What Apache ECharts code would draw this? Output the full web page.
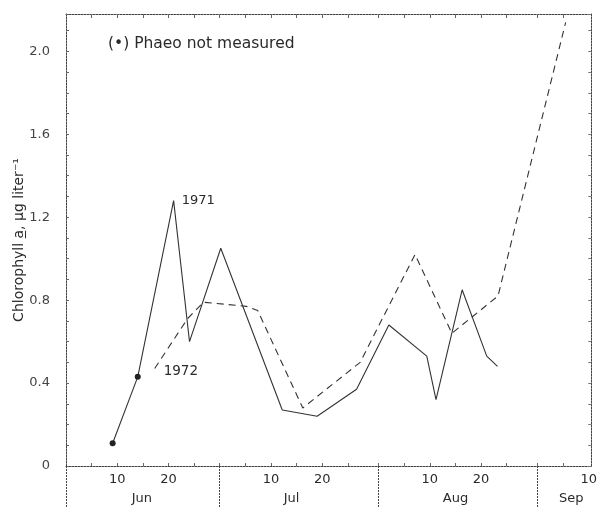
<!DOCTYPE html>
<html>
<head>
<meta charset="utf-8">
<script src="https://cdn.jsdelivr.net/npm/echarts@6/dist/echarts.min.js"></script>
<style>html,body{margin:0;padding:0;background:#fff;}#c{width:600px;height:508px;}</style>
</head>
<body>
<div id="c"></div>
<script>
// x values: days counted from 31 May (1 Jun = 1, 1 Jul = 31, ...)
const days1971 = [9.1, 14.0, 21.0, 24.1, 30.2, 42.2, 49.0, 56.7, 63.0, 70.4, 72.2, 77.3, 82.1, 84.2];
const chl1971  = [0.11, 0.43, 1.28, 0.60, 1.05, 0.27, 0.24, 0.37, 0.68, 0.53, 0.32, 0.85, 0.53, 0.48];
const phaeoNotMeasured1971 = [0, 1];

const days1972 = [17.3, 23.7, 26.8, 35.2, 37.4, 46.2, 57.4, 68.1, 75.3, 84.3, 97.5];
const chl1972  = [0.47, 0.71, 0.79, 0.77, 0.75, 0.28, 0.50, 1.02, 0.64, 0.82, 2.14];

const monthStarts = [0, 30, 61, 92];
const monthNames = ['Jun', 'Jul', 'Aug', 'Sep'];
const monthLabelPos = [14.8, 44, 76, 98.6];
const dayTicks = [10, 20, 40, 50, 71, 81, 102];
const topTicks = [5, 10, 15, 20, 25, 30, 35, 40, 45, 50, 55, 61, 66, 71, 76, 81, 86, 92, 97];
const yTicks = [0, 0.4, 0.8, 1.2, 1.6, 2.0];

const FONT = 'DejaVu Sans';
const INK = '#2a2a2a';
const axisLineStyle = { color: '#444', width: 1, type: [2, 1] };

function monthIndex(v) {
  let k = 0;
  for (let i = 0; i < monthStarts.length; i++) if (v > monthStarts[i]) k = i;
  return k;
}

const data1971 = days1971.map((d, i) => {
  const item = { value: [d, chl1971[i]] };
  if (phaeoNotMeasured1971.indexOf(i) >= 0) { item.symbolSize = 6; }
  if (i === 2) item.label = { show: true, position: 'right', distance: 8, formatter: '1971', fontFamily: FONT, fontSize: 13, color: INK };
  return item;
});
const data1972 = days1972.map((d, i) => {
  const item = { value: [d, chl1972[i]] };
  if (i === 0) item.label = { show: true, position: 'right', distance: 9, offset: [0, 3], formatter: '1972', fontFamily: FONT, fontSize: 13.5, color: INK };
  return item;
});

const chart = echarts.init(document.getElementById('c'), null, { renderer: 'canvas' });
chart.setOption({
  animation: false,
  backgroundColor: '#fff',
  title: {
    text: '(•) Phaeo not measured',
    left: 108, top: 36, padding: 0,
    textStyle: { fontFamily: FONT, fontSize: 15.5, fontWeight: 'normal', color: INK }
  },
  grid: { left: 66, right: 7, top: 14, bottom: 42, containLabel: false },
  xAxis: [
    {
      type: 'value', position: 'bottom', min: 0, max: 102.5,
      axisLine: { show: true, onZero: false, lineStyle: axisLineStyle },
      axisTick: { show: true, inside: true, length: 3, customValues: topTicks, lineStyle: { color: '#666' } },
      axisLabel: {
        customValues: dayTicks, margin: 7, fontFamily: FONT, fontSize: 13, color: INK,
        formatter: v => String(Math.round(v - monthStarts[monthIndex(v)]))
      },
      splitLine: { show: false }
    },
    {
      type: 'value', position: 'bottom', min: 0, max: 102.5,
      axisLine: { show: false },
      axisTick: { show: true, inside: false, length: 42, customValues: monthStarts.concat([]), lineStyle: axisLineStyle },
      axisLabel: {
        customValues: monthLabelPos, margin: 26, fontFamily: FONT, fontSize: 13, color: INK,
        formatter: v => monthNames[monthLabelPos.indexOf(v)] || ''
      },
      splitLine: { show: false }
    },
    {
      type: 'value', position: 'top', min: 0, max: 102.5,
      axisLine: { show: true, onZero: false, lineStyle: axisLineStyle },
      axisTick: { show: true, inside: true, length: 4, customValues: topTicks, lineStyle: { color: '#666' } },
      axisLabel: { show: false },
      splitLine: { show: false }
    }
  ],
  yAxis: [
    {
      type: 'value', position: 'left', min: 0, max: 2.18, interval: 0.1,
      name: 'Chlorophyll a\u0332, µg liter\u207B\u00B9',
      nameLocation: 'middle', nameGap: 40, nameRotate: 90, nameMoveOverlap: false,
      nameTextStyle: { fontFamily: FONT, fontSize: 14, color: INK },
      axisLine: { show: true, onZero: false, lineStyle: axisLineStyle },
      axisTick: { show: true, inside: true, length: 3, lineStyle: { color: '#666' } },
      axisLabel: {
        customValues: yTicks, margin: 16, fontFamily: FONT, fontSize: 13, color: '#444',
        formatter: v => (v === 0 ? '0' : v.toFixed(1))
      },
      splitLine: { show: false }
    },
    {
      type: 'value', position: 'right', min: 0, max: 2.18, interval: 0.1,
      axisLine: { show: true, onZero: false, lineStyle: axisLineStyle },
      axisTick: { show: true, inside: true, length: 3, lineStyle: { color: '#777' } },
      axisLabel: { show: false },
      splitLine: { show: false }
    }
  ],
  series: [
    {
      name: '1971', type: 'line', xAxisIndex: 0, yAxisIndex: 0,
      data: data1971, symbol: 'circle', symbolSize: 0.01, showSymbol: true,
      itemStyle: { color: '#222' },
      lineStyle: { color: '#333', width: 1.1, type: 'solid' },
      z: 3
    },
    {
      name: '1972', type: 'line', xAxisIndex: 0, yAxisIndex: 0,
      data: data1972, symbol: 'circle', symbolSize: 0.01, showSymbol: true,
      itemStyle: { color: '#222' },
      lineStyle: { color: '#333', width: 1.1, type: [7, 5] },
      z: 3
    }
  ]
});
</script>
</body>
</html>
